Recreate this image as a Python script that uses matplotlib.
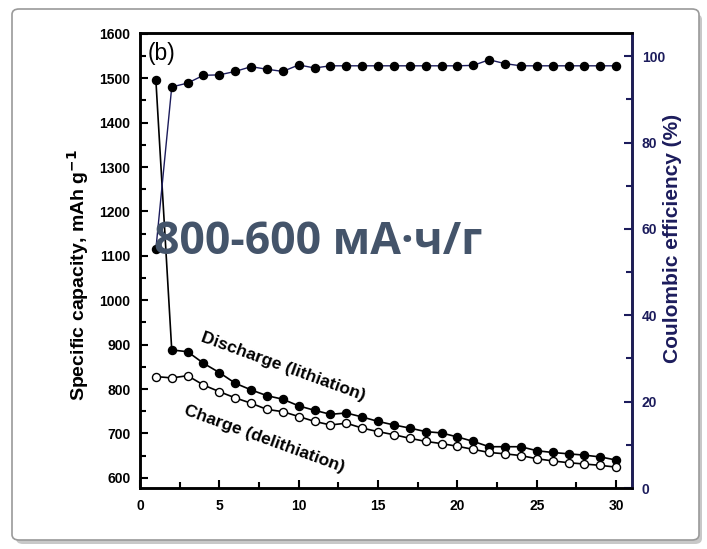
import matplotlib
matplotlib.use("Agg")
import matplotlib.pyplot as plt
from matplotlib.patches import FancyBboxPatch
from matplotlib.ticker import MultipleLocator

cycles = list(range(1, 31))
discharge = [1496, 888, 884, 858, 837, 813, 798, 785, 777, 762,
             752, 743, 746, 737, 727, 719, 712, 704, 701, 692,
             682, 670, 670, 670, 661, 657, 654, 651, 647, 640]
charge = [828, 825, 830, 809, 794, 780, 768, 754, 749, 738,
          727, 719, 723, 712, 704, 697, 689, 682, 677, 671,
          664, 657, 654, 650, 643, 638, 634, 631, 628, 624]
efficiency = [55.3, 92.9, 93.8, 95.6, 95.7, 96.5, 97.6, 97.0, 96.5, 98.0,
              97.3, 97.8, 97.8, 97.8, 97.8, 97.8, 97.8, 97.8, 97.8, 97.8,
              97.9, 99.2, 98.3, 97.8, 97.8, 97.8, 97.8, 97.8, 97.8, 97.8]

left_ticks = [600, 700, 800, 900, 1000, 1100, 1200, 1300, 1400, 1500, 1600]
right_ticks = [0, 20, 40, 60, 80, 100]
x_ticks = [0, 5, 10, 15, 20, 25, 30]

NAVY = "#1c1c5c"
TXT = "#44546A"

plt.rcParams['font.family'] = ['Liberation Sans', 'DejaVu Sans']

fig = plt.figure(figsize=(7.07, 5.49), dpi=100)
fig.patch.set_facecolor("white")

# frame with shadow
shadow = FancyBboxPatch((16 / 707, 5 / 549), 686 / 707, 530 / 549,
                        boxstyle="round,pad=0,rounding_size=0.01",
                        transform=fig.transFigure, facecolor="#c8c8c8",
                        edgecolor="none", zorder=-3)
frame = FancyBboxPatch((12 / 707, 9 / 549), 687 / 707, 531 / 549,
                       boxstyle="round,pad=0,rounding_size=0.01",
                       transform=fig.transFigure, facecolor="white",
                       edgecolor="#9a9a9a", linewidth=1.2, zorder=-2)
fig.patches.extend([shadow, frame])

ax = fig.add_axes([140 / 707, 61 / 549, 492 / 707, 455 / 549])
ax.set_facecolor("none")
ax2 = ax.twinx()
ax2.set_facecolor("none")

ax.plot(cycles, discharge, color="black", lw=1.2, marker="o", ms=5.8,
        mfc="black", mec="black", zorder=3)
ax.plot(cycles, charge, color="black", lw=1.2, marker="o", ms=5.8,
        mfc="white", mec="black", mew=1.0, zorder=3)
ax2.plot(cycles, efficiency, color=NAVY, lw=1.0, ls="-",
         marker="o", ms=5.8, mfc="black", mec="black", zorder=3)

ax.set_xlim(0, 31)
ax.set_ylim(577, 1602)
ax2.set_ylim(0, 105.4)

ax.set_xticks(x_ticks)
ax.xaxis.set_minor_locator(MultipleLocator(2.5))
ax.set_yticks(left_ticks)
ax.yaxis.set_minor_locator(MultipleLocator(50))
ax2.set_yticks(right_ticks)
ax2.yaxis.set_minor_locator(MultipleLocator(10))

for a in (ax, ax2):
    for s in a.spines.values():
        s.set_linewidth(1.8)
ax2.spines['right'].set_color(NAVY)

ax.tick_params(axis="both", which="both", direction="in", width=1.5,
               labelsize=10)
ax.tick_params(which="major", length=6)
ax.tick_params(which="minor", length=4)
ax.tick_params(axis="y", pad=7)
ax.tick_params(axis="x", pad=8)
ax2.tick_params(axis="y", which="both", direction="in", width=1.5,
                colors=NAVY, labelsize=10, pad=7)
ax2.tick_params(axis="y", which="major", length=6)
ax2.tick_params(axis="y", which="minor", length=4)
for lab in ax.get_xticklabels() + ax.get_yticklabels():
    lab.set_fontweight("bold")
for lab in ax2.get_yticklabels():
    lab.set_fontweight("bold")
    lab.set_color(NAVY)

fig.text(78 / 707, 1 - 275 / 549, "Specific capacity, mAh g$^{\\mathbf{-1}}$",
         fontsize=14, fontweight="bold", rotation=90, ha="center", va="center")
fig.text(672 / 707, 1 - 238 / 549, "Coulombic efficiency (%)", fontsize=15,
         fontweight="bold", color=NAVY, rotation=90, ha="center", va="center")

ax.text(0.45, 1555, "(b)", fontsize=16.5, ha="left", va="center")
ax.text(9.0, 850, "Discharge (lithiation)", fontsize=12.5, fontweight="bold",
        rotation=-20, ha="center", va="center", rotation_mode="anchor")
ax.text(7.85, 688, "Charge (delithiation)", fontsize=12.5, fontweight="bold",
        rotation=-20, ha="center", va="center", rotation_mode="anchor")

fig.text(318 / 707, 1 - 243 / 549, "800-600 мА·ч/г", fontsize=32,
         fontweight="bold", color=TXT, family=["Open Sans", "DejaVu Sans"],
         ha="center", va="center", zorder=10)

fig.savefig("out.png", dpi=100)
